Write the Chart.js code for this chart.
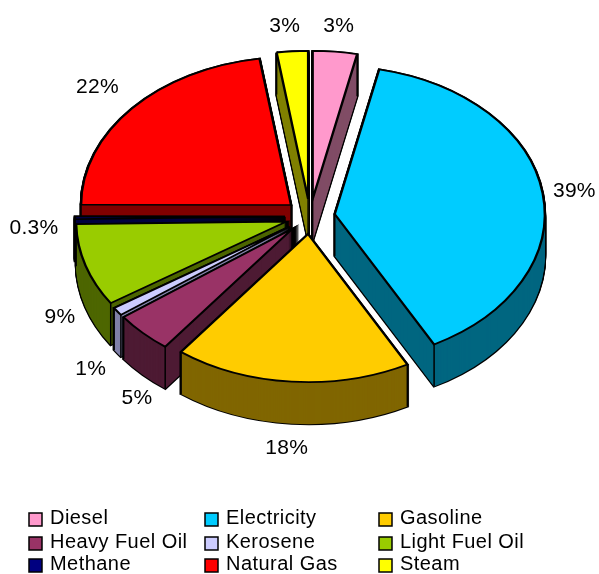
<!DOCTYPE html>
<html>
<head>
<meta charset="utf-8">
<style>
html,body{margin:0;padding:0;background:#fff;}
canvas{display:block;}
</style>
<script src="https://cdn.jsdelivr.net/npm/chart.js@4/dist/chart.umd.min.js"></script>
</head>
<body>
<canvas id="c" width="599" height="574"></canvas>
<script>
const categories = ['Diesel','Electricity','Gasoline','Heavy Fuel Oil','Kerosene','Light Fuel Oil','Methane','Natural Gas','Steam'];
const values = [3.4,38.8,18.2,4.5,0.9,9.0,0.3,22.6,2.4];
const percentLabels = ['3%','39%','18%','5%','1%','9%','0.3%','22%','3%'];
const topColors = ['#FF99CC','#00CCFF','#FFCC00','#993366','#CCCCFF','#99CC00','#000080','#FF0000','#FFFF00'];
const sideColors = ['#804D66','#006680','#806600','#4D1A33','#8080A8','#4D6600','#000040','#800000','#808000'];

const TILT = 0.705, DEPTH = 42, EXPLODE = 25, LABEL_R = 270;
const labelNudge = [[0,-1],[-3,1],[-2,0],[19,6],[2,2],[8,3],[-6,10],[-8,-5],[-5,0]];
const legendCols = [29,205,379], legendRows = [513,537,559];

function drawArc(ctx, arc, over){
  const saved = arc.options;
  const o = Object.create(saved);
  Object.assign(o, over);
  arc.options = o;
  arc.draw(ctx);
  arc.options = saved;
}

const pie3d = {
  id:'pie3d',
  beforeDatasetDraw(chart, args){
    const ctx = chart.ctx;
    const arcs = chart.getDatasetMeta(args.index).data;
    const cx = arcs[0].x, cy = arcs[0].y;
    const mid = a => (a.startAngle + a.endAngle) / 2;
    const order = arcs.map((a,i)=>i).sort((p,q)=>Math.sin(mid(arcs[p]))-Math.sin(mid(arcs[q])));
    for(const i of order){
      const a = arcs[i], m = mid(a);
      const ex = Math.cos(m)*EXPLODE, ey = Math.sin(m)*EXPLODE;
      const at = (dy) => {
        ctx.setTransform(1,0,0,TILT,0,cy*(1-TILT)+dy);
        ctx.translate(ex,ey);
      };
      ctx.save();
      // outline of the extruded body
      for(let d=DEPTH;d>=0;d-=1){
        at(d);
        drawArc(ctx,a,{backgroundColor:'#000',borderColor:'#000',borderWidth:2.8,borderJoinStyle:'miter'});
      }
      // body fill
      for(let d=DEPTH;d>=0;d-=1){
        at(d);
        drawArc(ctx,a,{backgroundColor:sideColors[i],borderWidth:0});
      }
      // vertical edges
      ctx.setTransform(1,0,0,1,0,0);
      ctx.strokeStyle='#000';
      ctx.lineWidth=1.5;
      const px = cx+ex, py = cy+ey*TILT, R = a.outerRadius;
      const pts = [[px,py],
        [px+Math.cos(a.startAngle)*R, py+Math.sin(a.startAngle)*R*TILT],
        [px+Math.cos(a.endAngle)*R, py+Math.sin(a.endAngle)*R*TILT]];
      for(const p of pts){
        ctx.beginPath();ctx.moveTo(p[0],p[1]);ctx.lineTo(p[0],p[1]+DEPTH);ctx.stroke();
      }
      // top face
      at(0);
      drawArc(ctx,a,{backgroundColor:topColors[i],borderColor:'#000',borderWidth:2.4,borderJoinStyle:'miter'});
      ctx.restore();
    }
    return false;
  },
  afterDraw(chart){
    const ctx = chart.ctx;
    const arcs = chart.getDatasetMeta(0).data;
    const cx = arcs[0].x, cy = arcs[0].y;
    ctx.save();
    ctx.fillStyle='#000';
    ctx.textBaseline='middle';
    ctx.textAlign='center';
    ctx.font='21px "Liberation Sans", Arial, sans-serif';
    ctx.letterSpacing='0.3px';
    arcs.forEach((a,i)=>{
      const m=(a.startAngle+a.endAngle)/2;
      const s=Math.sin(m);
      const x=cx+Math.cos(m)*LABEL_R+labelNudge[i][0];
      const y=cy+s*LABEL_R*TILT+(s>0.02?DEPTH:0)+labelNudge[i][1];
      ctx.fillText(percentLabels[i],x,y);
    });
    // three-column legend
    ctx.textAlign='left';
    ctx.font='20px "Liberation Sans", Arial, sans-serif';
    ctx.letterSpacing='0.45px';
    categories.forEach((name,i)=>{
      const x=legendCols[i%3], y=legendRows[Math.floor(i/3)];
      ctx.fillStyle=topColors[i];
      ctx.fillRect(x,y,13,13);
      ctx.strokeStyle='#000';
      ctx.lineWidth=1.5;
      ctx.strokeRect(x,y,13,13);
      ctx.fillStyle='#000';
      ctx.fillText(name,x+21,y+5);
    });
    ctx.restore();
  }
};

new Chart(document.getElementById('c'),{
  type:'pie',
  data:{labels:categories,datasets:[{data:values,backgroundColor:topColors,borderColor:'#000',borderWidth:2,radius:210,clip:false}]},
  options:{
    responsive:false,
    animation:false,
    layout:{padding:{left:21,right:0,top:0,bottom:141}},
    plugins:{legend:{display:false},tooltip:{enabled:false},title:{display:false}}
  },
  plugins:[pie3d]
});
</script>
</body>
</html>
